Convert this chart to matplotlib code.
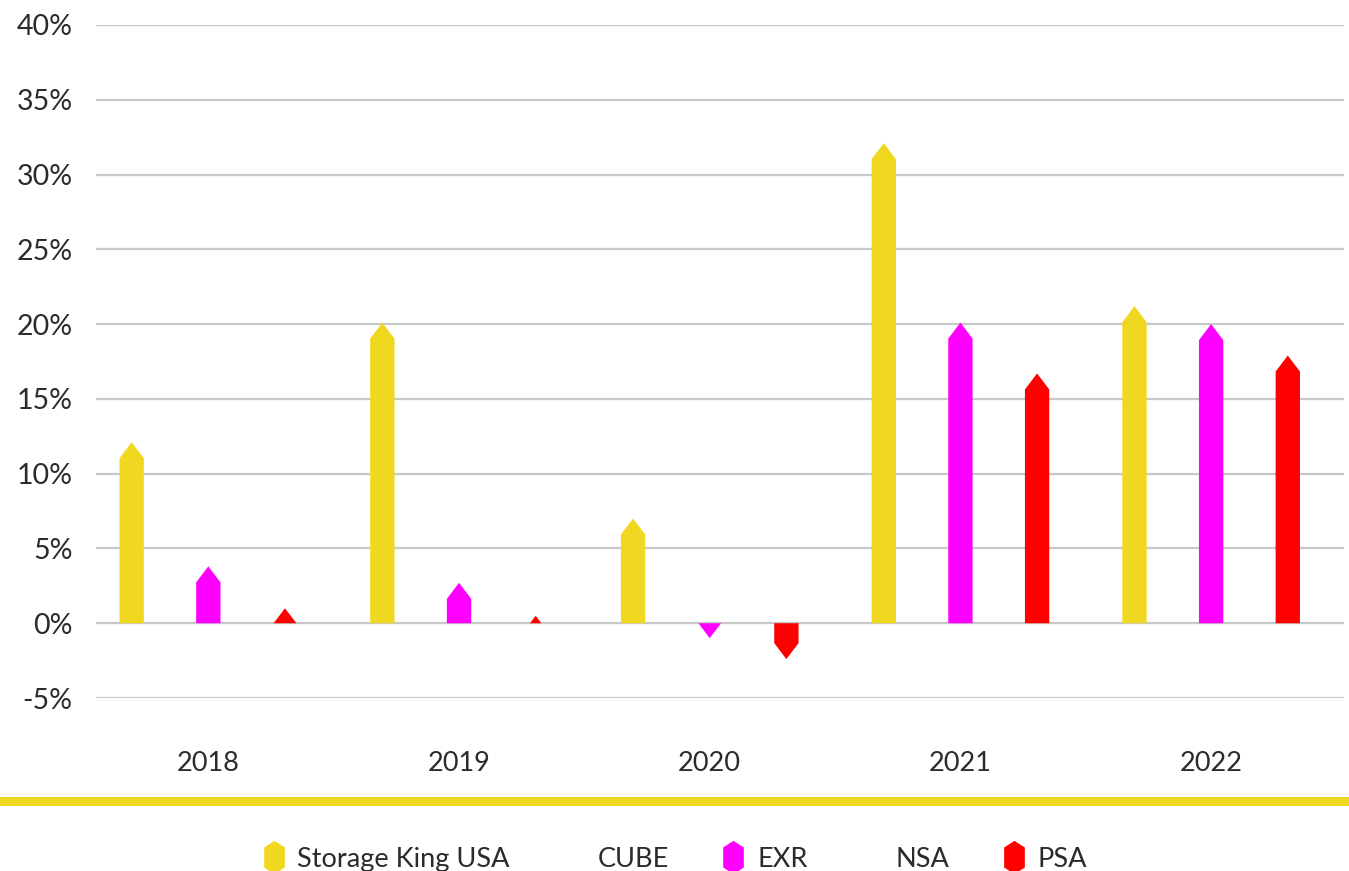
import numpy as np
import matplotlib
matplotlib.use("Agg")
import matplotlib.pyplot as plt
from matplotlib.lines import Line2D
from matplotlib.patches import Rectangle

plt.rcParams['font.family'] = ['Lato', 'DejaVu Sans']

years = ["2018", "2019", "2020", "2021", "2022"]
series_names = ["Storage King USA", "CUBE", "EXR", "NSA", "PSA"]
storage_king = [12.1, 20.1, 7.0, 32.1, 21.2]
cube = [np.nan] * 5
exr = [3.8, 2.7, -1.0, 20.1, 20.0]
nsa = [np.nan] * 5
psa = [1.0, 0.5, -2.4, 16.7, 17.9]
series_values = [storage_king, cube, exr, nsa, psa]
colors = ["#F0D820", "none", "#FF00FF", "none", "#FF0000"]
yticks = [-5, 0, 5, 10, 15, 20, 25, 30, 35, 40]

W, H = 1349, 871
fig = plt.figure(figsize=(W / 100, H / 100), dpi=100)
ax = fig.add_axes([96 / W, (H - 698) / H, 1248 / W, 673 / H])

ax.set_ylim(-5, 40)
ax.set_xlim(-0.448, 4.53)

slot = 0.1529
bw = 0.097
tip = 1.07  # height of the pointed end, in % units

for s, (vals, col) in enumerate(zip(series_values, colors)):
    if col == "none":
        continue
    off = (s - 2) * slot
    for i, v in enumerate(vals):
        if np.isnan(v):
            continue
        xc = i + off
        x0, x1 = xc - bw / 2, xc + bw / 2
        sgn = 1 if v >= 0 else -1
        if abs(v) >= tip:
            vb = v - sgn * tip
            xs = [x0, x0, xc, x1, x1]
            ys = [0, vb, v, vb, 0]
        else:
            hw = (bw / 2) * abs(v) / tip
            xs = [xc - hw, xc, xc + hw]
            ys = [0, v, 0]
        ax.fill(xs, ys, color=col, lw=0, zorder=3)

ax.set_yticks(yticks)
ax.set_yticklabels([f"{t}%" for t in yticks])
ax.set_xticks(range(len(years)))
ax.set_xticklabels(years)
ax.grid(axis='y', color="#c8c8c8", lw=1.6)
ax.set_axisbelow(True)
for sp in ax.spines.values():
    sp.set_visible(False)
ax.tick_params(axis='y', length=0, pad=17, labelsize=20.5, labelcolor="#2b2b2b")
ax.tick_params(axis='x', length=0, pad=38, labelsize=19.5, labelcolor="#2b2b2b")

# yellow band under the axis labels
fig.patches.append(Rectangle((0, (H - 806) / H), 1, 9 / H, transform=fig.transFigure,
                             color="#F0D820", lw=0))

hexm = [(0, 1), (0.62, 0.6), (0.62, -0.6), (0, -1), (-0.62, -0.6), (-0.62, 0.6)]
handles = []
for name, col in zip(series_names, colors):
    handles.append(Line2D([], [], marker=hexm, linestyle='none', markersize=24,
                          markerfacecolor=col, markeredgecolor='none'))
fig.legend(handles, series_names, loc='center', bbox_to_anchor=(0.5, 12 / H),
           ncol=5, frameon=False, fontsize=19.5, handlelength=0.85,
           handletextpad=0.45, columnspacing=1.95, labelcolor="#2b2b2b")

fig.savefig("out.png", dpi=100)
